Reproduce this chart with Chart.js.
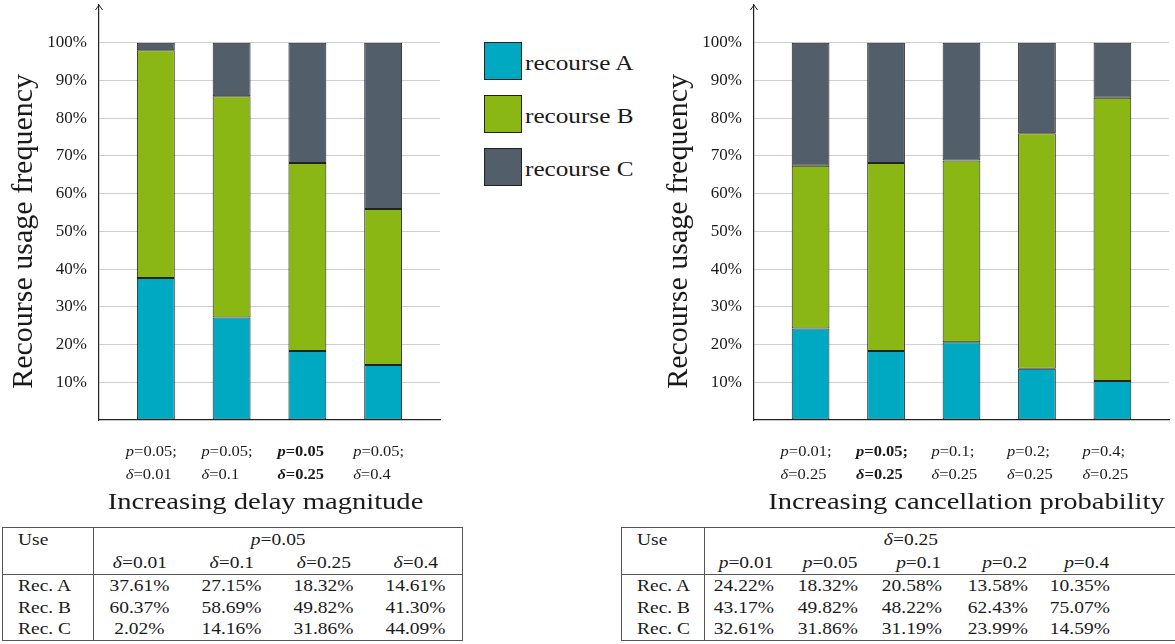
<!DOCTYPE html>
<html>
<head>
<meta charset="utf-8">
<title>Recourse usage frequency</title>
<script src="https://cdn.jsdelivr.net/npm/chart.js@4.4.1/dist/chart.umd.min.js"></script>
<style>
  html, body { margin: 0; padding: 0; background: #fff; }
  body { width: 1175px; height: 644px; position: relative; overflow: hidden;
         font-family: "Liberation Serif", serif; color: #1a1a1a; }
  canvas.plot { position: absolute; top: 0; }
  #legend { position: absolute; left: 484px; top: 42px; }
  .key { position: relative; height: 53px; }
  .swatch { position: absolute; left: 0; top: 0; width: 36px; height: 36px; border: 1.2px solid #222; }
  .key-text { position: absolute; left: 41px; top: 9px; font-size: 21px; line-height: 24px;
              white-space: nowrap; transform: scaleX(1.2); transform-origin: left center; }
  table.summary { position: absolute; top: 527px; border-collapse: collapse; table-layout: fixed;
                  font-size: 16.5px; line-height: 18px; }
  table.summary td { padding: 0; white-space: nowrap; overflow: visible; }
  table.summary td.lab { padding-left: 15px; text-align: left; border-right: 1.2px solid #555; }
  table.summary td.c { text-align: center; }
  table.summary td.r { text-align: right; padding-right: 8px; }
  table.summary tr.h1 { height: 25px; }
  table.summary tr.h2 { height: 22px; }
  table.summary tr.h2 td { border-bottom: 1.5px solid #555; }
  table.summary tr.row { height: 22px; }
  .w { display: inline-block; transform: scaleX(1.18); }
  td.lab .w { transform-origin: left center; }
  td.c .w { transform-origin: center center; }
  td.r .w { transform-origin: right center; }
  #tDelay { left: 2px; border: 1.5px solid #555; }
  #tCancel { left: 621px; border-top: 1.5px solid #555; border-bottom: 1.5px solid #555; border-left: 1.5px solid #555; }
</style>
</head>
<body>
<canvas id="delayChart" class="plot" width="460" height="520" style="left:0"></canvas>
<canvas id="cancelChart" class="plot" width="535" height="520" style="left:640px"></canvas>
<div id="legend"></div>
<table id="tDelay" class="summary"></table>
<table id="tCancel" class="summary"></table>

<script>
// Series shared by both panels
const seriesNames = ['recourse A', 'recourse B', 'recourse C'];
const seriesColors = ['#00A9C2', '#8AB713', '#525E69'];
const rowLabels = ['Rec. A', 'Rec. B', 'Rec. C'];
const yTickValues = [10, 20, 30, 40, 50, 60, 70, 80, 90, 100];
const yAxisTitle = 'Recourse usage frequency';

// Panel 1: increasing delay magnitude, p fixed at 0.05
const delayFixed = 'p=0.05';
const delayColumns = ['δ=0.01', 'δ=0.1', 'δ=0.25', 'δ=0.4'];
const delayTicks = [['p=0.05;', 'δ=0.01'], ['p=0.05;', 'δ=0.1'], ['p=0.05', 'δ=0.25'], ['p=0.05;', 'δ=0.4']];
const delayBold = 2;
const delayTitle = 'Increasing delay magnitude';
const delayA = [37.61, 27.15, 18.32, 14.61];
const delayB = [60.37, 58.69, 49.82, 41.30];
const delayC = [2.02, 14.16, 31.86, 44.09];

// Panel 2: increasing cancellation probability, δ fixed at 0.25
const cancelFixed = 'δ=0.25';
const cancelColumns = ['p=0.01', 'p=0.05', 'p=0.1', 'p=0.2', 'p=0.4'];
const cancelTicks = [['p=0.01;', 'δ=0.25'], ['p=0.05;', 'δ=0.25'], ['p=0.1;', 'δ=0.25'], ['p=0.2;', 'δ=0.25'], ['p=0.4;', 'δ=0.25']];
const cancelBold = 1;
const cancelTitle = 'Increasing cancellation probability';
const cancelA = [24.22, 18.32, 20.58, 13.58, 10.35];
const cancelB = [43.17, 49.82, 48.22, 62.43, 75.07];
const cancelC = [32.61, 31.86, 31.19, 23.99, 14.59];

const INK = '#1a1a1a';
const FONT = '"Liberation Serif"';

// Math-style label: leading symbol italic, the rest upright
function richParts(str, bold) {
  const w = bold ? 'bold ' : '';
  return [{ t: str[0], f: 'italic ' + w }, { t: str.slice(1), f: w }];
}

function drawRich(ctx, parts, x, y, size, sx, align) {
  ctx.save();
  ctx.translate(x, y);
  ctx.scale(sx, 1);
  let total = 0;
  const widths = parts.map(p => {
    ctx.font = p.f + size + 'px ' + FONT;
    const w = ctx.measureText(p.t).width;
    total += w;
    return w;
  });
  let cx = align === 'center' ? -total / 2 : 0;
  ctx.textAlign = 'left';
  parts.forEach((p, i) => {
    ctx.font = p.f + size + 'px ' + FONT;
    ctx.fillText(p.t, cx, 0);
    cx += widths[i];
  });
  ctx.restore();
}

// Two-line category labels, axis captions and the arrow on the value axis
const annotate = {
  id: 'annotate',
  afterDraw(chart, args, o) {
    const { ctx, chartArea: a, scales: { x, y } } = chart;
    ctx.save();
    ctx.fillStyle = INK;
    ctx.textBaseline = 'middle';
    o.ticks.forEach((lines, i) => {
      const left = x.getPixelForValue(i) - 30;
      lines.forEach((s, k) => drawRich(ctx, richParts(s, i === o.bold), left, a.bottom + 32 + k * 23, 15, 1.1, 'left'));
    });
    drawRich(ctx, [{ t: o.title, f: '' }], (a.left + a.right) / 2 + o.titleShift, a.bottom + 83, 24, 1.19, 'center');

    ctx.save();
    ctx.translate(a.left - 67, y.getPixelForValue((y.min + 100) / 2));
    ctx.rotate(-Math.PI / 2);
    ctx.textAlign = 'center';
    ctx.textBaseline = 'alphabetic';
    ctx.font = '30px ' + FONT;
    ctx.fillText(o.yTitle, 0, 0);
    ctx.restore();

    ctx.strokeStyle = '#222';
    ctx.lineWidth = 1;
    ctx.beginPath();
    ctx.moveTo(a.left - 3.5, a.top + 5);
    ctx.lineTo(a.left, a.top);
    ctx.lineTo(a.left + 3.5, a.top + 5);
    ctx.stroke();
    ctx.restore();
  }
};

function makeChart(id, cfg) {
  const n = cfg.ticks.length;
  const series = [cfg.A, cfg.B, cfg.C];
  return new Chart(document.getElementById(id), {
    type: 'bar',
    data: {
      datasets: series.map((vals, s) => ({
        label: seriesNames[s],
        data: vals.map((v, i) => ({ x: i, y: v })),
        backgroundColor: seriesColors[s],
        borderColor: '#222',
        borderWidth: 1,
        borderSkipped: false,
        barPercentage: 0.5,
        categoryPercentage: 1.0
      }))
    },
    options: {
      responsive: false,
      animation: false,
      devicePixelRatio: 1,
      layout: { padding: { left: 0, top: 5, right: cfg.padRight, bottom: 0 } },
      plugins: {
        legend: { display: false },
        tooltip: { enabled: false },
        annotate: { ticks: cfg.ticks, bold: cfg.bold, title: cfg.title, titleShift: cfg.titleShift, yTitle: yAxisTitle }
      },
      scales: {
        x: {
          type: 'linear', stacked: true, min: -0.75, max: n - 0.25,
          offset: false,
          grid: { display: false, offset: false },
          ticks: { display: false },
          border: { display: true, color: '#222', width: 1.2 },
          // one tick per category, so bar widths follow the category spacing
          afterBuildTicks(s) { s.ticks = cfg.ticks.map((_, i) => ({ value: i })); },
          afterFit(s) { s.height = 100; s.paddingLeft = 0; s.paddingRight = 0; }
        },
        y: {
          stacked: true, min: 0, max: 110,
          grid: {
            drawTicks: false, lineWidth: 1,
            color: c => yTickValues.includes(c.tick.value) ? '#cfcfcf' : 'rgba(0,0,0,0)'
          },
          border: { display: true, color: '#222', width: 1.2 },
          ticks: {
            stepSize: 10, padding: 12, color: INK,
            font: { family: 'Liberation Serif', size: 17 },
            callback: v => yTickValues.includes(v) ? v + '%' : ''
          },
          afterFit(s) { s.width = cfg.axisLeft; s.paddingTop = 0; s.paddingBottom = 0; }
        }
      }
    },
    plugins: [annotate]
  });
}

makeChart('delayChart', { ticks: delayTicks, bold: delayBold, title: delayTitle, titleShift: -4,
  A: delayA, B: delayB, C: delayC, axisLeft: 99, padRight: 20 });
makeChart('cancelChart', { ticks: cancelTicks, bold: cancelBold, title: cancelTitle, titleShift: 5,
  A: cancelA, B: cancelB, C: cancelC, axisLeft: 114, padRight: 6 });

// Legend
document.getElementById('legend').innerHTML = seriesNames.map((nm, i) =>
  `<div class="key"><div class="swatch" style="background:${seriesColors[i]}"></div>` +
  `<div class="key-text">${nm}</div></div>`).join('');

// Summary tables
function mathLabel(s) { return `<i>${s[0]}</i>${s.slice(1)}`; }
function w(html) { return `<span class="w">${html}</span>`; }

function buildTable(id, o) {
  const cols = o.columns.length;
  let html = '<colgroup>' + o.widths.map(px => `<col style="width:${px}px">`).join('') + '</colgroup>';
  const filler = o.filler ? '<td></td>' : '';
  html += `<tr class="h1"><td class="lab">${w('Use')}</td><td class="c" colspan="${cols}">${w(mathLabel(o.fixed))}</td>${filler}</tr>`;
  html += `<tr class="h2"><td class="lab"></td>` + o.columns.map(c => `<td class="${o.align}">${w(mathLabel(c))}</td>`).join('') + `${filler}</tr>`;
  o.rows.forEach((vals, r) => {
    html += `<tr class="row"><td class="lab">${w(rowLabels[r])}</td>` +
      vals.map(v => `<td class="${o.align}">${w(v.toFixed(2) + '%')}</td>`).join('') + `${filler}</tr>`;
  });
  const t = document.getElementById(id);
  t.innerHTML = html;
  t.style.width = o.widths.reduce((s, v) => s + v, 0) + 'px';
}

buildTable('tDelay', { fixed: delayFixed, columns: delayColumns, rows: [delayA, delayB, delayC],
  widths: [91, 92, 92, 92, 93], align: 'c', filler: false });
buildTable('tCancel', { fixed: cancelFixed, columns: cancelColumns, rows: [cancelA, cancelB, cancelC],
  widths: [83, 77, 84, 84, 86, 82, 90], align: 'r', filler: true });
</script>
</body>
</html>
